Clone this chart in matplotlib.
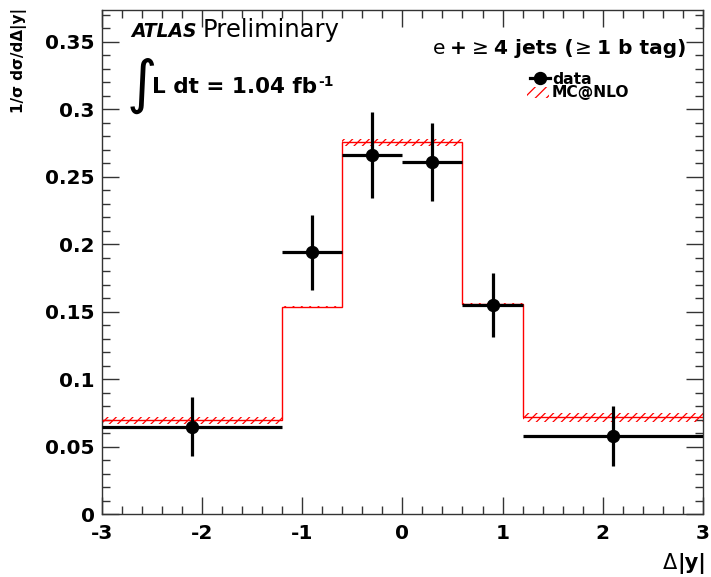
import matplotlib
matplotlib.use('Agg')
import matplotlib.pyplot as plt
from matplotlib.lines import Line2D
from matplotlib.patches import Rectangle
from matplotlib.ticker import MultipleLocator, FuncFormatter
import numpy as np

plt.rcParams['font.family'] = ['DejaVu Sans']
plt.rcParams['axes.unicode_minus'] = False
plt.rcParams['hatch.linewidth'] = 0.9

# ---- data ----
bin_edges = [-3.0, -1.2, -0.6, 0.0, 0.6, 1.2, 3.0]
data_values = [0.065, 0.194, 0.266, 0.261, 0.155, 0.058]
data_errors = [0.022, 0.028, 0.032, 0.029, 0.024, 0.022]
mc_values = [0.0697, 0.1535, 0.2755, 0.2755, 0.1555, 0.0720]
mc_errors = [0.0027, 0.0007, 0.0025, 0.0025, 0.0007, 0.0033]

W, H = 711, 577
fig = plt.figure(figsize=(W / 100, H / 100), dpi=100)
L, R, T, B = 101.7, 703.0, 10.0, 514.3
ax = fig.add_axes([L / W, 1 - B / H, (R - L) / W, (B - T) / H])

edges = np.array(bin_edges)
centers = 0.5 * (edges[:-1] + edges[1:])
halfw = 0.5 * (edges[1:] - edges[:-1])
mcv = np.array(mc_values)
mce = np.array(mc_errors)

# MC hatched band
for i in range(len(mcv)):
    ax.fill_between([edges[i], edges[i + 1]], [mcv[i] - mce[i]] * 2, [mcv[i] + mce[i]] * 2,
                    facecolor='none', edgecolor='red', hatch='////', linewidth=0, zorder=2)
ax.stairs(mcv, edges, baseline=None, color='red', lw=1.0, zorder=3)

# data
ax.errorbar(centers, data_values, yerr=data_errors, xerr=halfw, fmt='o', color='black',
            ms=8.6, elinewidth=2.3, capsize=0, zorder=5)

ax.set_xlim(-3, 3)
ax.set_ylim(0, 0.3735)
ax.xaxis.set_major_locator(MultipleLocator(1))
ax.xaxis.set_minor_locator(MultipleLocator(0.2))
ax.yaxis.set_major_locator(MultipleLocator(0.05))
ax.yaxis.set_minor_locator(MultipleLocator(0.01))
ax.xaxis.set_major_formatter(FuncFormatter(lambda v, p: '%g' % round(v, 3)))
ax.yaxis.set_major_formatter(FuncFormatter(lambda v, p: '%g' % round(v, 3)))
ax.tick_params(which='both', direction='in', top=True, right=True, width=1.0, color='#333333')
ax.tick_params(axis='x', which='major', length=12.5, pad=7)
ax.tick_params(axis='x', which='minor', length=6)
ax.tick_params(axis='y', which='major', length=12, pad=5)
ax.tick_params(axis='y', which='minor', length=6)
for lab in ax.get_xticklabels() + ax.get_yticklabels():
    lab.set_fontweight('bold')
    lab.set_fontsize(14.5)
for s in ax.spines.values():
    s.set_linewidth(1.0)
    s.set_color('#333333')

renderer = fig.canvas.get_renderer()


def draw_pieces(pieces, x_px, y_px, align='left'):
    items = []
    total = 0.0
    for s, kw, dy, gap in pieces:
        t = fig.text(0, 0, s, va='baseline', ha='left', **kw)
        w = t.get_window_extent(renderer).width
        items.append((t, dy, w, gap))
        total += w + gap
    total -= items[-1][3]
    x = x_px if align == 'left' else x_px - total
    for t, dy, w, gap in items:
        t.set_position((x / W, (H - y_px + dy) / H))
        x += w + gap


# ATLAS Preliminary
draw_pieces([
    ('ATLAS', dict(fontsize=13.5, fontweight='bold', fontstyle='italic'), 0, 5),
    ('Preliminary', dict(fontsize=17.5), 0, 0),
], 131.7, 37)

# integral luminosity
fig.text(127 / W, 1 - 102 / H, '∫', fontsize=42, va='baseline', ha='left')
draw_pieces([
    ('L dt = 1.04 fb', dict(fontsize=15.5, fontweight='bold'), 0, 1),
    ('-1', dict(fontsize=10, fontweight='bold'), 7, 0),
], 152, 93.3)

# channel label
bold = dict(fontsize=14.5, fontweight='bold')
reg = dict(fontsize=14.5)
draw_pieces([
    ('e', reg, 0, 5),
    ('+', bold, 0, 5),
    ('≥', reg, 0, 5),
    ('4 jets (', bold, 0, 1),
    ('≥', reg, 0, 5),
    ('1 b tag)', bold, 0, 0),
], 686, 54, align='right')

# legend (manual)
ly1 = 77.5
fig.add_artist(Line2D([530 / W, 550 / W], [1 - ly1 / H] * 2, color='black', lw=2.3))
fig.add_artist(Line2D([540 / W], [1 - ly1 / H], marker='o', ms=8.6, color='black'))
fig.text(552 / W, 1 - 83.5 / H, 'data', fontsize=11.2, fontweight='bold', va='baseline')
fig.add_artist(Rectangle((527 / W, 1 - 97.5 / H), 22 / W, 11 / H, facecolor='none',
                         edgecolor='red', hatch='///', lw=0, transform=fig.transFigure))
fig.text(552 / W, 1 - 97.5 / H, 'MC@NLO', fontsize=11.2, fontweight='bold', va='baseline')

# axis titles
draw_pieces([
    ('Δ', dict(fontsize=15), 0, 0),
    ('|y|', dict(fontsize=15, fontweight='bold'), 0, 0),
], 706, 569, align='right')

fig.text(27 / W, 1 - 8 / H, '1/σ dσ/dΔ|y|', rotation=90, fontsize=11, fontweight='bold',
         ha='right', va='top')

fig.savefig('out.png', dpi=100)
